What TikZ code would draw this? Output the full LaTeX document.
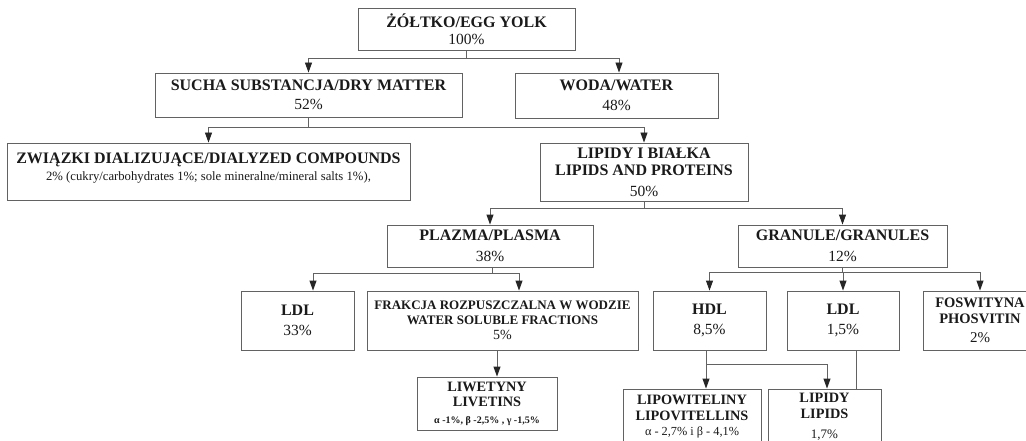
\documentclass[tikz,border=0pt]{standalone}
\usepackage{fontspec}
\setmainfont{Liberation Serif}
\usetikzlibrary{arrows.meta}
\definecolor{lnc}{HTML}{626262}
\definecolor{txc}{HTML}{1A1A1A}
\newcommand\pcnt[1]{{\fontsize{15.5}{17}\selectfont #1}}
\tikzset{
  box/.style={draw=lnc, line width=0.9pt, inner sep=0pt, align=center, text=txc, fill=white,
    font=\fontsize{16}{17.5}\selectfont},
  smallbox/.style={box, font=\fontsize{14.3}{15.5}\selectfont},
  link/.style={draw=lnc, line width=0.9pt},
  arr/.style={link, -{Triangle[width=7pt,length=10pt,color=black!85]}}
}
\begin{document}
\begin{tikzpicture}[x=1pt,y=-1pt]
\useasboundingbox (0,0) rectangle (1026,441);
\clip (0,0) rectangle (1026,441);
\fill[white] (0,0) rectangle (1026,441);

% boxes
\node[box, minimum width=217pt, minimum height=42pt] (yolk) at (466.5,29)
  {\textbf{ŻÓŁTKO/EGG YOLK}\\[0pt]\pcnt{100\%}};
\node[box, minimum width=307pt, minimum height=44pt] (sucha) at (308.5,95)
  {\textbf{SUCHA SUBSTANCJA/DRY MATTER}\\[2pt]\pcnt{52\%}};
\node[box, minimum width=203pt, minimum height=45pt] (woda) at (616.5,95.5)
  {\textbf{WODA/WATER}\\[2pt]\pcnt{48\%}};
\node[box, minimum width=403pt, minimum height=57pt] (zwiazki) at (208.5,171.5)
  {\textbf{ZWIĄZKI DIALIZUJĄCE/DIALYZED COMPOUNDS}\\{\fontsize{12.7}{14}\selectfont 2\% (cukry/carbohydrates 1\%; sole mineralne/mineral salts 1\%),}\\[-8pt]};
\node[box, minimum width=208pt, minimum height=58pt] (lipidy) at (644,172)
  {\textbf{LIPIDY I BIAŁKA}\\\textbf{LIPIDS AND PROTEINS}\\[3pt]\pcnt{50\%}};
\node[box, minimum width=206pt, minimum height=42pt] (plazma) at (490,246)
  {\textbf{PLAZMA/PLASMA}\\[3pt]\pcnt{38\%}};
\node[box, minimum width=209pt, minimum height=42pt] (granule) at (842.5,246)
  {\textbf{GRANULE/GRANULES}\\[3pt]\pcnt{12\%}};
\node[box, minimum width=113pt, minimum height=59pt] (ldla) at (297.5,320.5)
  {\textbf{LDL}\\[3pt]\pcnt{33\%}};
\node[box, minimum width=271pt, minimum height=59pt, font=\fontsize{13}{15}\selectfont] (frakcja) at (502.5,320.5)
  {\textbf{FRAKCJA ROZPUSZCZALNA W WODZIE}\\\textbf{WATER SOLUBLE FRACTIONS}\\{\fontsize{14}{15}\selectfont 5\%}};
\node[box, minimum width=113pt, minimum height=59pt] (hdl) at (709.5,320.5)
  {\textbf{HDL}\\[3pt]\pcnt{8,5\%}};
\node[box, minimum width=112pt, minimum height=59pt] (ldlb) at (843,320.5)
  {\textbf{LDL}\\[3pt]\pcnt{1,5\%}};
\node[box, minimum width=114pt, minimum height=59pt, font=\fontsize{14.5}{15.5}\selectfont] (fosw) at (980,320.5)
  {\textbf{FOSWITYNA}\\\textbf{PHOSVITIN}\\[4pt]{\fontsize{15}{16}\selectfont 2\%}};
\node[smallbox, minimum width=140pt, minimum height=53pt] (liwet) at (487,403.5)
  {\textbf{LIWETYNY}\\\textbf{LIVETINS}\\[1pt]{\fontsize{10}{12}\selectfont\bfseries α -1\%, β -2,5\% , γ -1,5\%}};
\node[smallbox, minimum width=138pt, minimum height=56pt] (lipow) at (692,417)
  {\textbf{LIPOWITELINY}\\\textbf{LIPOVITELLINS}\\{\fontsize{12.3}{15}\selectfont α - 2,7\% i β - 4,1\%}};
\node[smallbox, minimum width=113pt, minimum height=56pt] (lipidyb) at (824.5,417)
  {\textbf{LIPIDY}\\\textbf{LIPIDS}\\[5pt]{\fontsize{13}{15}\selectfont 1,7\%}};

% connectors
\draw[link] (yolk.south) -- (yolk.south |- 0,58) coordinate (j1);
\draw[arr] (j1) -| (sucha.north);
\draw[arr] (j1) -| ([xshift=2.5pt]woda.north);

\draw[link] (sucha.south) -- (sucha.south |- 0,127) coordinate (j2);
\draw[arr] (j2) -| (zwiazki.north);
\draw[arr] (j2) -| (lipidy.north);

\draw[link] (lipidy.south) -- (lipidy.south |- 0,208) coordinate (j3);
\draw[arr] (j3) -| (plazma.north);
\draw[arr] (j3) -| (granule.north);

\coordinate (p1) at ([xshift=2pt]plazma.south);
\draw[link] (p1) -- (p1 |- 0,273) coordinate (j4);
\draw[arr] (j4) -| ([xshift=15.5pt]ldla.north);
\draw[arr] (j4) -| ([xshift=16.5pt]frakcja.north);

\draw[link] (granule.south) -- (granule.south |- 0,272) coordinate (j5);
\draw[arr] (j5) -| (hdl.north);
\draw[arr] (j5) -| (ldlb.north);
\draw[arr] (j5) -| (fosw.north);

\coordinate (f1) at ([xshift=-5.5pt]frakcja.south);
\draw[arr] (f1) -- (f1 |- liwet.north);

\coordinate (h1) at ([xshift=-3.5pt]hdl.south);
\draw[arr] (h1) -- (h1 |- lipow.north);
\draw[arr] (h1 |- 0,364) coordinate (j6) -| ([xshift=2.5pt]lipidyb.north);

\coordinate (l1) at ([xshift=13pt]ldlb.south);
\draw[link] (l1) -- (l1 |- lipidyb.north);
\end{tikzpicture}
\end{document}
